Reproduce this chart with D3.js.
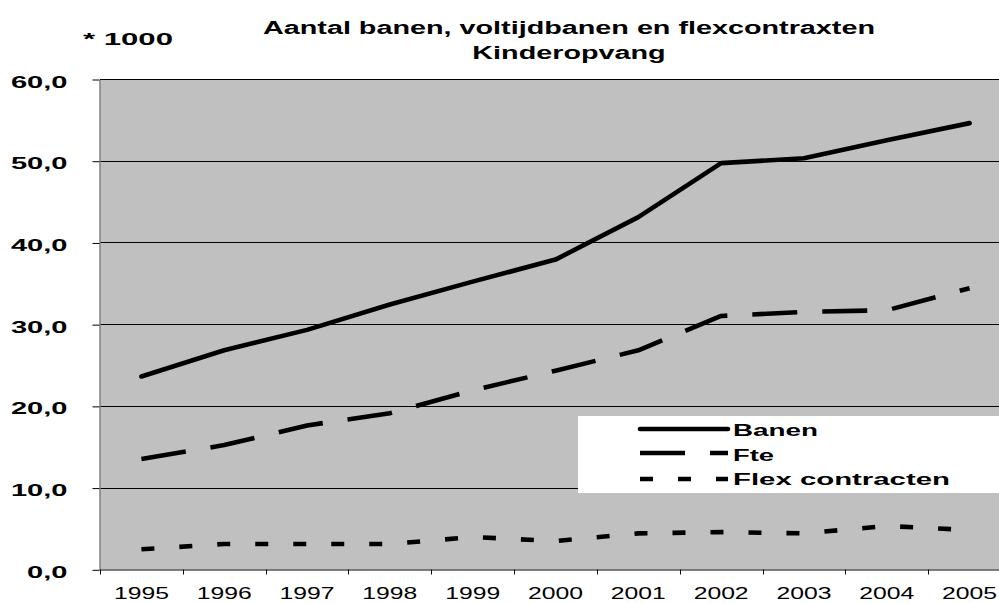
<!DOCTYPE html>
<html>
<head>
<meta charset="utf-8">
<script src="https://cdn.jsdelivr.net/npm/d3@7"></script>
<style>
  html, body { margin: 0; padding: 0; background: #fff; }
  svg { display: block; font-family: "Liberation Sans", Arial, sans-serif; }
</style>
</head>
<body>
<svg id="chart" width="999" height="603"></svg>
<script>
// Jobs in childcare (x 1000), 1995-2005
const years = ["1995", "1996", "1997", "1998", "1999", "2000", "2001", "2002", "2003", "2004", "2005"];
const banen = [23.6, 26.8, 29.3, 32.4, 35.2, 37.9, 43.1, 49.7, 50.3, 52.5, 54.6];
const fte   = [13.5, 15.2, 17.6, 19.1, 21.9, 24.3, 26.8, 31.0, 31.5, 31.7, 34.4];
const flex  = [2.45, 3.1, 3.1, 3.1, 3.95, 3.45, 4.4, 4.55, 4.4, 5.3, 4.8];
const yTicks = [0, 10, 20, 30, 40, 50, 60];
const seriesNames = ["Banen", "Fte", "Flex contracten"];
const titleLines = ["Aantal banen, voltijdbanen en flexcontraxten", "Kinderopvang"];
const unitLabel = "* 1000";

const svg = d3.select("#chart");
const plot = { left: 100, right: 1011, top: 79, bottom: 569.3 };

const x = d3.scaleBand().domain(years).range([plot.left, plot.right]).padding(0);
const y = d3.scaleLinear().domain([0, 60]).range([plot.bottom, plot.top]);
const cx = d => x(d) + x.bandwidth() / 2;

// widen text horizontally by factor k
function stretch(sel, k) {
  sel.each(function () {
    const w = this.getComputedTextLength();
    d3.select(this).attr("textLength", w * k).attr("lengthAdjust", "spacingAndGlyphs");
  });
}
function fitWidth(sel, width) {
  sel.attr("textLength", width).attr("lengthAdjust", "spacingAndGlyphs");
}

// plot background
svg.append("rect")
  .attr("x", plot.left).attr("y", plot.top)
  .attr("width", plot.right - plot.left).attr("height", plot.bottom - plot.top)
  .attr("fill", "#c0c0c0");

// horizontal gridlines
svg.append("g").selectAll("line")
  .data(yTicks.filter(v => v > 0))
  .join("line")
  .attr("x1", plot.left).attr("x2", plot.right)
  .attr("y1", d => Math.round(y(d)) + 0.5).attr("y2", d => Math.round(y(d)) + 0.5)
  .attr("stroke", "#000").attr("stroke-width", 1);

// y axis
const yAxis = svg.append("g")
  .attr("transform", `translate(${plot.left - 0.5},0.5)`)
  .call(d3.axisLeft(y).tickValues(yTicks).tickSize(7).tickSizeOuter(0)
    .tickFormat(d => d3.format(".1f")(d).replace(".", ",")));
yAxis.select(".domain").attr("stroke", "#808080").attr("stroke-width", 1.5);
yAxis.selectAll(".tick line").attr("stroke", "#000");
yAxis.selectAll(".tick text")
  .attr("x", -32).attr("dy", null).attr("y", 7.5)
  .attr("fill", "#000")
  .style("font-family", '"Liberation Sans", Arial, sans-serif')
  .style("font-size", "17px").style("font-weight", "bold");
{
  const ref = yAxis.select(".tick:last-of-type text").node().getComputedTextLength();
  stretch(yAxis.selectAll(".tick text"), 56.6 / ref);
}

// x axis (labels centred on categories, ticks on category boundaries)
const xAxis = svg.append("g")
  .attr("transform", `translate(0,${Math.round(plot.bottom) + 0.5})`)
  .call(d3.axisBottom(x).tickSize(0).tickSizeOuter(0));
xAxis.select(".domain").attr("stroke", "#000").attr("stroke-width", 1.2);
xAxis.selectAll(".tick text")
  .attr("dy", null).attr("y", 29.5)
  .attr("fill", "#000")
  .style("font-family", '"Liberation Sans", Arial, sans-serif')
  .style("font-size", "16.5px").style("font-weight", "normal");
{
  const ref = xAxis.select(".tick text").node().getComputedTextLength();
  stretch(xAxis.selectAll(".tick text"), 55 / ref);
}
xAxis.append("g").selectAll("line")
  .data(years.map(d => x(d)))
  .join("line")
  .attr("x1", d => Math.round(d) + 0.5).attr("x2", d => Math.round(d) + 0.5)
  .attr("y1", 0).attr("y2", 5)
  .attr("stroke", "#000").attr("stroke-width", 1);

// series lines
const series = [
  { name: seriesNames[0], values: banen, dash: null, cap: "round" },
  { name: seriesNames[1], values: fte,   dash: "45,25", cap: "butt" },
  { name: seriesNames[2], values: flex,  dash: "13,25", cap: "butt" }
];
const line = d3.line().x((d, i) => cx(years[i])).y(d => y(d));
svg.append("g").selectAll("path")
  .data(series)
  .join("path")
  .attr("d", d => line(d.values))
  .attr("fill", "none")
  .attr("stroke", "#000")
  .attr("stroke-width", 4.6)
  .attr("stroke-linecap", d => d.cap)
  .attr("stroke-linejoin", "round")
  .attr("stroke-dasharray", d => d.dash);

// legend
const legend = svg.append("g");
legend.append("rect")
  .attr("x", 578).attr("y", 416).attr("width", 440).attr("height", 77)
  .attr("fill", "#fff");
const legendRows = [
  { lineY: 429, textY: 436, width: 85 },
  { lineY: 453, textY: 460.5, width: 41 },
  { lineY: 479, textY: 484.5, width: 217 }
];
series.forEach((s, i) => {
  const r = legendRows[i];
  legend.append("line")
    .attr("x1", 640).attr("x2", 728).attr("y1", r.lineY).attr("y2", r.lineY)
    .attr("stroke", "#000").attr("stroke-width", 4.6)
    .attr("stroke-linecap", s.cap)
    .attr("stroke-dasharray", s.dash);
  legend.append("text")
    .attr("x", 733).attr("y", r.textY)
    .style("font-size", "16px").style("font-weight", "bold")
    .text(s.name)
    .call(fitWidth, r.width);
});

// title
const title = svg.append("g").attr("text-anchor", "middle");
const t1 = title.append("text").attr("x", 569).attr("y", 33.5)
  .style("font-size", "17.5px").style("font-weight", "bold").text(titleLines[0]);
const t2 = title.append("text").attr("x", 569).attr("y", 59)
  .style("font-size", "17.5px").style("font-weight", "bold").text(titleLines[1]);
{
  const k = 612 / t1.node().getComputedTextLength();
  stretch(t1, k);
  stretch(t2, k);
}

// unit label
svg.append("text").attr("x", 83).attr("y", 45)
  .style("font-size", "17px").style("font-weight", "bold")
  .text(unitLabel)
  .call(fitWidth, 90);
</script>
</body>
</html>
